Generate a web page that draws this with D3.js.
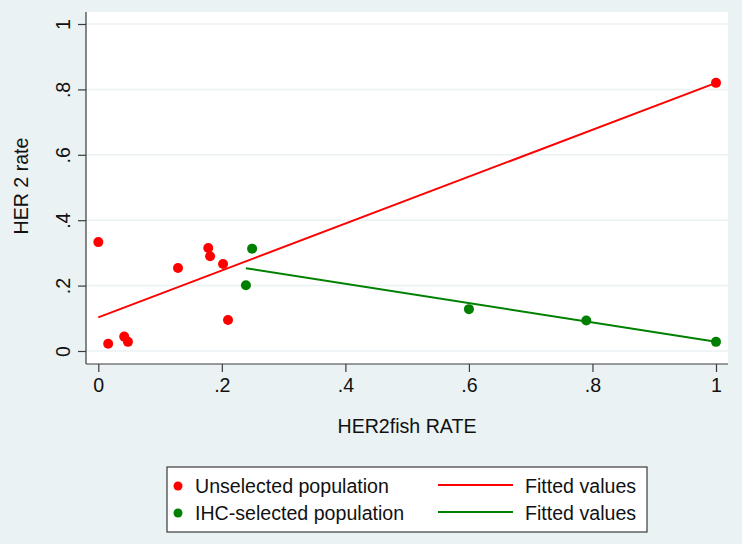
<!DOCTYPE html>
<html><head><meta charset="utf-8">
<script src="https://cdn.jsdelivr.net/npm/d3@7"></script>
<style>html,body{margin:0;padding:0;background:#eaf2f3;} svg{display:block;font-family:"Liberation Sans",Arial,sans-serif;}</style>
</head><body><svg id="c" width="742" height="544"></svg>
<script>
// Data
const unselectedX = [0, 0.016, 0.042, 0.048, 0.129, 0.178, 0.181, 0.202, 0.21, 1];
const unselectedY = [0.333, 0.022, 0.044, 0.028, 0.254, 0.315, 0.29, 0.266, 0.095, 0.82];
const ihcX = [0.249, 0.239, 0.6, 0.79, 1];
const ihcY = [0.313, 0.201, 0.128, 0.093, 0.028];
const fitUnselectedX = [0, 1];
const fitUnselectedY = [0.103, 0.82];
const fitIhcX = [0.239, 1];
const fitIhcY = [0.253, 0.028];
const xTicks = [0, 0.2, 0.4, 0.6, 0.8, 1];
const yTicks = [0, 0.2, 0.4, 0.6, 0.8, 1];
const tickLabels = ["0", ".2", ".4", ".6", ".8", "1"];
const legendLabels = ["Unselected population", "IHC-selected population", "Fitted values", "Fitted values"];

const RED = "#ff0000", GREEN = "#008000";
const FS = 19.6;
const svg = d3.select("#c");
const plot = {l: 86, r: 728, t: 12, b: 364};
const x = d3.scaleLinear().domain([0, 1]).range([98.3, 716]);
const y = d3.scaleLinear().domain([0, 1]).range([351, 24]);

svg.append("rect").attr("width", 742).attr("height", 544).attr("fill", "#eaf2f3");
svg.append("rect").attr("x", plot.l).attr("y", plot.t).attr("width", plot.r - plot.l).attr("height", plot.b - plot.t).attr("fill", "#fff");

// gridlines
svg.append("g").selectAll("line").data(yTicks).join("line")
  .attr("x1", plot.l).attr("x2", plot.r).attr("y1", d => y(d)).attr("y2", d => y(d))
  .attr("stroke", "#eaf2f3").attr("stroke-width", 1.5);

// axes
const fmt = (d) => tickLabels[xTicks.indexOf(d)];
const xAxis = svg.append("g").attr("transform", `translate(0,${plot.b})`)
  .call(d3.axisBottom(x).tickValues(xTicks).tickFormat(fmt).tickSize(8).tickSizeOuter(0).tickPadding(6));
xAxis.select(".domain").attr("d", `M${plot.l},0H${plot.r}`);
const yAxis = svg.append("g").attr("transform", `translate(${plot.l},0)`)
  .call(d3.axisLeft(y).tickValues(yTicks).tickFormat((d) => tickLabels[yTicks.indexOf(d)]).tickSize(8).tickSizeOuter(0));
yAxis.select(".domain").attr("d", `M0,${plot.t}V${plot.b}`);
[xAxis, yAxis].forEach(a => {
  a.selectAll(".domain, .tick line").attr("stroke", "#3a3a3a").attr("stroke-width", 1.2);
  a.selectAll("text").attr("font-size", FS).attr("fill", "#111").attr("font-family", "Liberation Sans, Arial, sans-serif");
});
yAxis.selectAll(".tick text")
  .attr("x", null).attr("dy", null)
  .attr("text-anchor", "middle")
  .attr("transform", "translate(-16,0) rotate(-90)");

// titles
svg.append("text").attr("x", 407).attr("y", 433).attr("text-anchor", "middle")
  .attr("font-size", FS).attr("fill", "#111").text("HER2fish RATE");
svg.append("text").attr("transform", "translate(28,186) rotate(-90)").attr("text-anchor", "middle")
  .attr("font-size", FS).attr("fill", "#111").text("HER 2 rate");

// fitted lines
const line = d3.line().x(d => x(d[0])).y(d => y(d[1]));
svg.append("path").datum(d3.zip(fitUnselectedX, fitUnselectedY)).attr("d", line)
  .attr("fill", "none").attr("stroke", RED).attr("stroke-width", 2);
svg.append("path").datum(d3.zip(fitIhcX, fitIhcY)).attr("d", line)
  .attr("fill", "none").attr("stroke", GREEN).attr("stroke-width", 2);

// points
svg.append("g").selectAll("circle").data(d3.zip(unselectedX, unselectedY)).join("circle")
  .attr("cx", d => x(d[0])).attr("cy", d => y(d[1])).attr("r", 5).attr("fill", RED);
svg.append("g").selectAll("circle").data(d3.zip(ihcX, ihcY)).join("circle")
  .attr("cx", d => x(d[0])).attr("cy", d => y(d[1])).attr("r", 5).attr("fill", GREEN);

// legend
const lg = svg.append("g");
lg.append("rect").attr("x", 167).attr("y", 467).attr("width", 480).attr("height", 65)
  .attr("fill", "#fff").attr("stroke", "#3a3a3a").attr("stroke-width", 1.2);
const rows = [486, 513];
const cols = [RED, GREEN];
rows.forEach((ry, i) => {
  lg.append("circle").attr("cx", 178).attr("cy", ry).attr("r", 4.5).attr("fill", cols[i]);
  lg.append("text").attr("x", 195).attr("y", ry + 7).attr("font-size", FS).attr("fill", "#111").text(legendLabels[i]);
  lg.append("line").attr("x1", 438).attr("x2", 513).attr("y1", ry - 1).attr("y2", ry - 1)
    .attr("stroke", cols[i]).attr("stroke-width", 2);
  lg.append("text").attr("x", 525).attr("y", ry + 7).attr("font-size", FS).attr("fill", "#111").text(legendLabels[i + 2]);
});
</script></body></html>
